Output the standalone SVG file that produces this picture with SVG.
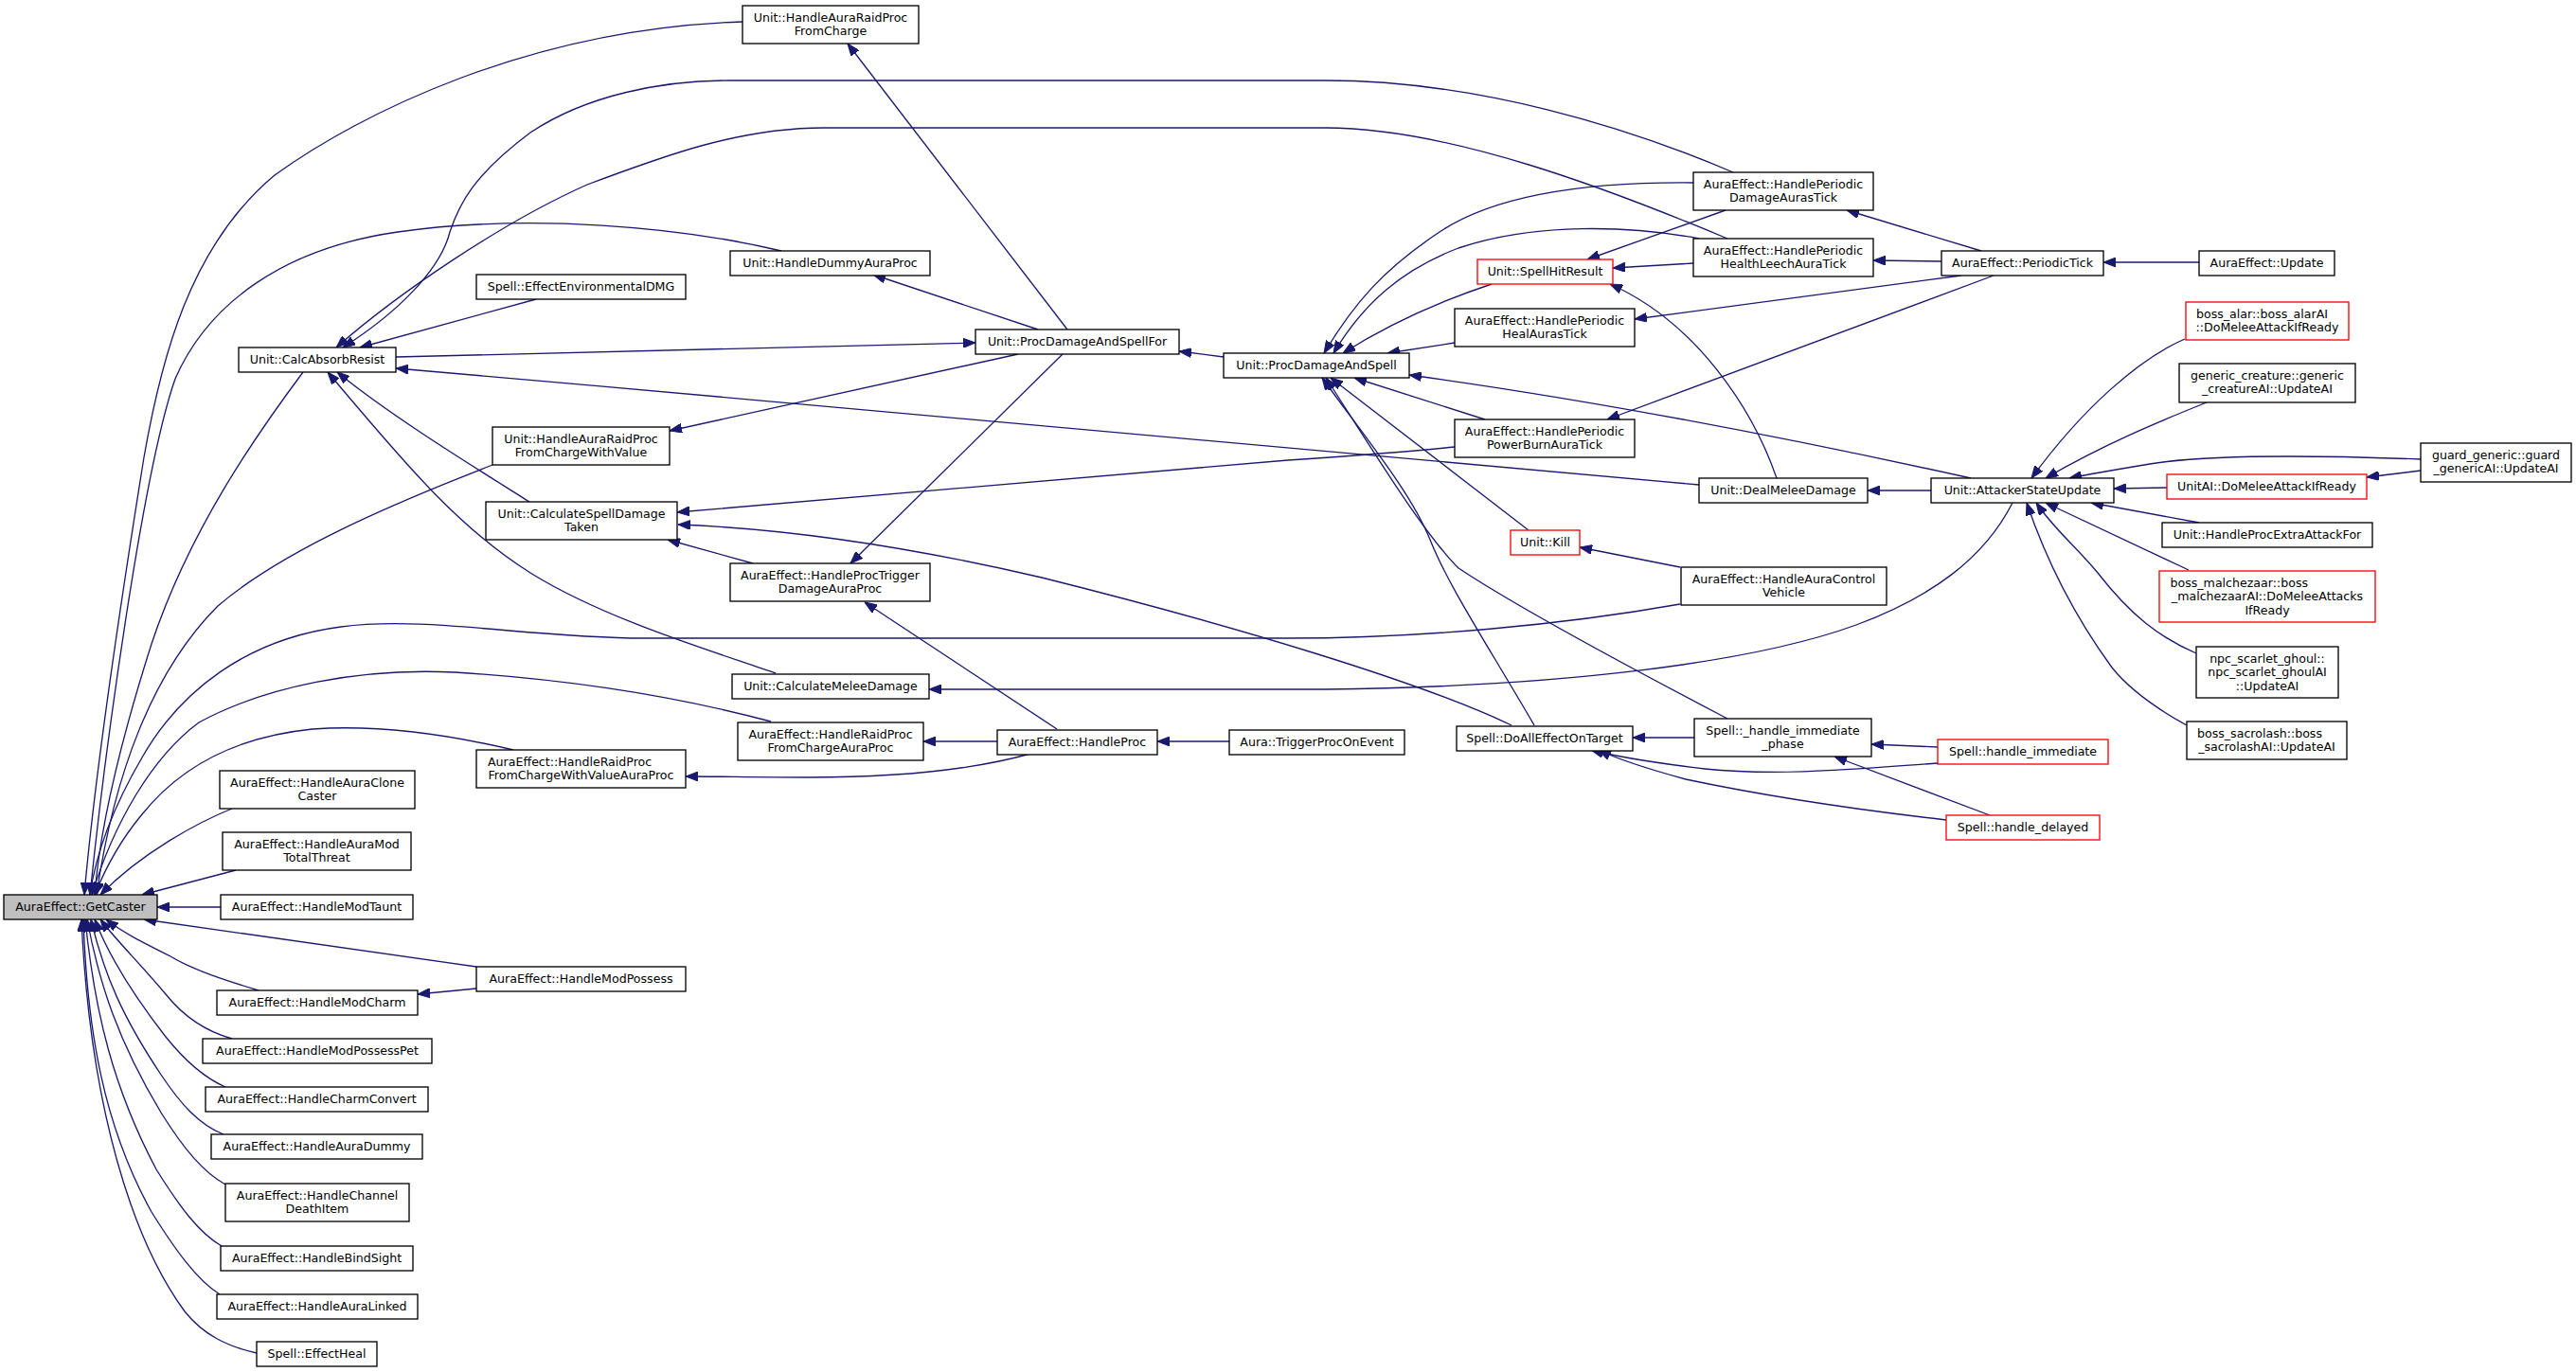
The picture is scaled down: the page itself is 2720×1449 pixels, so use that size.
<svg xmlns="http://www.w3.org/2000/svg" width="2720" height="1449" viewBox="0 0 2720 1449">
<style>
rect{fill:#fff;stroke:#000;stroke-width:1.33}
.r rect{stroke:#ff0000}
.g rect{fill:#bfbfbf}
text{font-family:"DejaVu Sans","Liberation Sans",sans-serif;font-size:12.6px;fill:#000;text-anchor:middle}
text.l{text-anchor:start}
#edges path{fill:none;stroke:#191970;stroke-width:1.33;marker-end:url(#ah)}
</style>
<defs>
<marker id="ah" markerUnits="userSpaceOnUse" viewBox="0 0 13 10" markerWidth="13" markerHeight="10" refX="13" refY="5" orient="auto"><path d="M0,0 L13,5 L0,10 Z" fill="#191970" stroke="#191970" stroke-width="1"/></marker>
</defs>
<rect x="0" y="0" width="2720" height="1449" style="fill:#fff;stroke:none"/>
<g id="edges">
<path d="M784,23 C560,30 380,120 290,185 C200,260 170,380 152,483 C130,620 100,820 89,945"/>
<path d="M1830,182 C1720,135 1560,85 1400,85 L770,85 C700,85 620,100 560,140 C500,185 485,215 475,245 C465,285 420,330 362,367"/>
<path d="M1824,252 C1700,200 1530,135 1400,135 L870,135 C780,135 700,165 620,195 C530,235 420,310 355,367"/>
<path d="M825,265 C720,240 560,225 420,245 C300,262 220,320 185,400 C150,500 110,800 95,945"/>
<path d="M566,316 L380,367"/>
<path d="M418,377 L1030,362"/>
<path d="M1794,512 C1400,480 900,430 418,389"/>
<path d="M320,393 C270,460 200,560 160,680 C125,790 105,880 100,945"/>
<path d="M819,711 C760,690 640,655 560,605 C480,555 420,480 346,393"/>
<path d="M559,530 C520,505 420,445 356,393"/>
<path d="M520,491 C420,530 300,580 230,640 C160,710 120,820 102,945"/>
<path d="M1774,638 C1650,660 1500,674 1360,674 L680,674 C560,674 450,650 360,662 C260,675 190,730 150,800 C115,860 100,910 95,945"/>
<path d="M814,762 C750,745 640,720 480,710 C380,705 280,725 210,763 C160,800 120,870 97,945"/>
<path d="M542,792 C470,775 400,765 330,770 C250,778 190,810 150,860 C125,890 110,920 100,945"/>
<path d="M245,854 C210,868 150,900 106,945"/>
<path d="M249,919 L150,945"/>
<path d="M233,958 L166,958"/>
<path d="M1127,348 L895,46"/>
<path d="M1096,348 L922,290"/>
<path d="M1292,377 L1245,371"/>
<path d="M1075,374 L707,455"/>
<path d="M1122,374 L898,595"/>
<path d="M795,595 L705,570"/>
<path d="M1536,472 C1480,478 1420,482 1360,486 L715,541"/>
<path d="M1596,766 C1500,720 1300,660 1100,610 C950,575 820,558 716,554"/>
<path d="M1116,770 L913,636"/>
<path d="M1053,783 L975,783"/>
<path d="M1088,796 C1020,815 940,821 853,821 C800,821 760,820 724,820"/>
<path d="M1298,783 L1222,783"/>
<path d="M2125,531 C2095,590 2040,630 1960,660 C1850,700 1650,725 1400,728 L981,728"/>
<path d="M1788,193 C1680,192 1580,205 1520,245 C1460,285 1430,320 1398,373"/>
<path d="M1794,252 C1720,238 1620,235 1540,262 C1480,285 1440,320 1408,373"/>
<path d="M1575,300 C1530,315 1470,340 1418,373"/>
<path d="M1536,362 L1465,373"/>
<path d="M2081,505 C1900,465 1700,425 1488,396"/>
<path d="M1568,443 L1430,399"/>
<path d="M1614,560 L1405,399"/>
<path d="M1620,766 C1570,680 1530,620 1510,570 C1490,520 1440,460 1396,399"/>
<path d="M1824,759 C1740,715 1600,640 1540,600 C1500,560 1440,460 1400,399"/>
<path d="M1788,278 L1703,283"/>
<path d="M1822,222 L1676,274"/>
<path d="M1876,505 C1850,430 1790,340 1700,300"/>
<path d="M2071,291 L1726,337"/>
<path d="M2092,265 L1950,222"/>
<path d="M2050,276 L1978,275"/>
<path d="M2105,291 L1697,443"/>
<path d="M2322,277 L2221,277"/>
<path d="M2307,358 C2260,378 2200,430 2145,505"/>
<path d="M2330,425 C2280,445 2220,470 2160,505"/>
<path d="M2556,485 C2450,481 2330,480 2270,490 C2240,495 2210,500 2185,505"/>
<path d="M2556,497 L2499,504"/>
<path d="M2288,515 L2232,516"/>
<path d="M2322,552 L2208,531"/>
<path d="M2311,602 L2160,531"/>
<path d="M2319,690 C2280,673 2250,650 2215,605 C2190,575 2170,560 2150,531"/>
<path d="M2309,766 C2280,750 2250,730 2230,705 C2190,650 2160,590 2140,531"/>
<path d="M2039,518 L1972,518"/>
<path d="M1789,779 L1724,779"/>
<path d="M2046,806 C1960,812 1880,820 1800,812 C1750,806 1710,800 1680,792"/>
<path d="M2055,866 C1960,855 1860,840 1780,823 C1740,812 1710,803 1688,792"/>
<path d="M2046,789 L1976,786"/>
<path d="M2101,861 L1937,799"/>
<path d="M1774,599 L1668,578"/>
<path d="M503,1021 L152,971"/>
<path d="M503,1044 L441,1050"/>
<path d="M273,1046 C240,1036 205,1025 180,1010 C150,995 130,985 112,971"/>
<path d="M245,1097 C220,1090 195,1075 175,1050 C150,1020 120,990 106,971"/>
<path d="M238,1148 C215,1138 195,1120 175,1095 C140,1050 115,1010 100,971"/>
<path d="M236,1198 C210,1188 190,1165 170,1135 C130,1075 110,1030 96,971"/>
<path d="M238,1251 C215,1238 195,1215 170,1175 C125,1100 105,1040 92,971"/>
<path d="M234,1316 C210,1302 190,1275 165,1235 C120,1150 100,1070 90,971"/>
<path d="M232,1367 C208,1352 185,1320 160,1280 C110,1190 92,1090 88,971"/>
<path d="M271,1429 C240,1422 215,1410 195,1385 C140,1310 95,1170 86,971"/>
</g>
<g id="n1" class="g"><rect x="4" y="945" width="162" height="26"/><text x="85" y="961.5">AuraEffect::GetCaster</text></g>
<g id="n2"><rect x="252" y="367" width="166" height="26"/><text x="335" y="383.5">Unit::CalcAbsorbResist</text></g>
<g id="n3"><rect x="503" y="290" width="221" height="26"/><text x="613.5" y="306.5">Spell::EffectEnvironmentalDMG</text></g>
<g id="n4"><rect x="520" y="451" width="187" height="40"/><text x="613.5" y="467.5">Unit::HandleAuraRaidProc</text><text x="613.5" y="482">FromChargeWithValue</text></g>
<g id="n5"><rect x="784" y="6" width="186" height="40"/><text x="877" y="22.5">Unit::HandleAuraRaidProc</text><text x="877" y="37">FromCharge</text></g>
<g id="n6"><rect x="771" y="265" width="211" height="26"/><text x="876.5" y="281.5">Unit::HandleDummyAuraProc</text></g>
<g id="n7"><rect x="1030" y="348" width="215" height="26"/><text x="1137.5" y="364.5">Unit::ProcDamageAndSpellFor</text></g>
<g id="n8"><rect x="1292" y="373" width="196" height="26"/><text x="1390" y="389.5">Unit::ProcDamageAndSpell</text></g>
<g id="n9"><rect x="1788" y="182" width="190" height="40"/><text x="1883" y="198.5">AuraEffect::HandlePeriodic</text><text x="1883" y="213">DamageAurasTick</text></g>
<g id="n10"><rect x="1788" y="252" width="190" height="40"/><text x="1883" y="268.5">AuraEffect::HandlePeriodic</text><text x="1883" y="283">HealthLeechAuraTick</text></g>
<g id="n11" class="r"><rect x="1560" y="274" width="143" height="26"/><text x="1631.5" y="290.5">Unit::SpellHitResult</text></g>
<g id="n12"><rect x="1536" y="326" width="190" height="40"/><text x="1631" y="342.5">AuraEffect::HandlePeriodic</text><text x="1631" y="357">HealAurasTick</text></g>
<g id="n13"><rect x="1536" y="443" width="190" height="40"/><text x="1631" y="459.5">AuraEffect::HandlePeriodic</text><text x="1631" y="474">PowerBurnAuraTick</text></g>
<g id="n14"><rect x="2050" y="265" width="171" height="26"/><text x="2135.5" y="281.5">AuraEffect::PeriodicTick</text></g>
<g id="n15"><rect x="2322" y="265" width="143" height="26"/><text x="2393.5" y="281.5">AuraEffect::Update</text></g>
<g id="n16" class="r"><rect x="2308" y="319" width="172" height="40"/><text class="l" x="2319" y="335.5">boss_alar::boss_alarAI</text><text x="2394" y="350">::DoMeleeAttackIfReady</text></g>
<g id="n17"><rect x="2301" y="384" width="186" height="41"/><text x="2394" y="400.5">generic_creature::generic</text><text x="2394" y="415">_creatureAI::UpdateAI</text></g>
<g id="n18"><rect x="2556" y="468" width="159" height="41"/><text x="2635.5" y="484.5">guard_generic::guard</text><text x="2635.5" y="499">_genericAI::UpdateAI</text></g>
<g id="n19"><rect x="513" y="530" width="202" height="40"/><text x="614" y="546.5">Unit::CalculateSpellDamage</text><text x="614" y="561">Taken</text></g>
<g id="n20"><rect x="771" y="595" width="211" height="40"/><text x="876.5" y="611.5">AuraEffect::HandleProcTrigger</text><text x="876.5" y="626">DamageAuraProc</text></g>
<g id="n21"><rect x="773" y="712" width="208" height="26"/><text x="877" y="728.5">Unit::CalculateMeleeDamage</text></g>
<g id="n22"><rect x="779" y="763" width="196" height="40"/><text x="877" y="779.5">AuraEffect::HandleRaidProc</text><text x="877" y="794">FromChargeAuraProc</text></g>
<g id="n23"><rect x="1053" y="771" width="169" height="26"/><text x="1137.5" y="787.5">AuraEffect::HandleProc</text></g>
<g id="n24"><rect x="1298" y="771" width="185" height="26"/><text x="1390.5" y="787.5">Aura::TriggerProcOnEvent</text></g>
<g id="n25"><rect x="503" y="792" width="221" height="40"/><text class="l" x="515" y="808.5">AuraEffect::HandleRaidProc</text><text x="613.5" y="823">FromChargeWithValueAuraProc</text></g>
<g id="n26"><rect x="232" y="814" width="206" height="40"/><text x="335" y="830.5">AuraEffect::HandleAuraClone</text><text x="335" y="845">Caster</text></g>
<g id="n27"><rect x="235" y="879" width="199" height="40"/><text x="334.5" y="895.5">AuraEffect::HandleAuraMod</text><text x="334.5" y="910">TotalThreat</text></g>
<g id="n28"><rect x="233" y="945" width="203" height="26"/><text x="334.5" y="961.5">AuraEffect::HandleModTaunt</text></g>
<g id="n29"><rect x="1794" y="505" width="178" height="26"/><text x="1883" y="521.5">Unit::DealMeleeDamage</text></g>
<g id="n30" class="r"><rect x="1595" y="560" width="73" height="26"/><text x="1631.5" y="576.5">Unit::Kill</text></g>
<g id="n31"><rect x="1775" y="599" width="217" height="40"/><text x="1883.5" y="615.5">AuraEffect::HandleAuraControl</text><text x="1883.5" y="630">Vehicle</text></g>
<g id="n32"><rect x="1538" y="767" width="186" height="26"/><text x="1631" y="783.5">Spell::DoAllEffectOnTarget</text></g>
<g id="n33"><rect x="1789" y="759" width="187" height="40"/><text x="1882.5" y="775.5">Spell::_handle_immediate</text><text x="1882.5" y="790">_phase</text></g>
<g id="n34"><rect x="2039" y="505" width="193" height="26"/><text x="2135.5" y="521.5">Unit::AttackerStateUpdate</text></g>
<g id="n35" class="r"><rect x="2288" y="501" width="211" height="26"/><text x="2393.5" y="517.5">UnitAI::DoMeleeAttackIfReady</text></g>
<g id="n36"><rect x="2283" y="552" width="222" height="26"/><text x="2394" y="568.5">Unit::HandleProcExtraAttackFor</text></g>
<g id="n37" class="r"><rect x="2280" y="603" width="228" height="54"/><text class="l" x="2291.5" y="619.5">boss_malchezaar::boss</text><text x="2394" y="634">_malchezaarAI::DoMeleeAttacks</text><text x="2394" y="648.5">IfReady</text></g>
<g id="n38"><rect x="2319" y="683" width="150" height="54"/><text x="2394" y="699.5">npc_scarlet_ghoul::</text><text x="2394" y="714">npc_scarlet_ghoulAI</text><text x="2394" y="728.5">::UpdateAI</text></g>
<g id="n39"><rect x="2309" y="762" width="169" height="40"/><text class="l" x="2320" y="778.5">boss_sacrolash::boss</text><text x="2393.5" y="793">_sacrolashAI::UpdateAI</text></g>
<g id="n40" class="r"><rect x="2046" y="781" width="180" height="26"/><text x="2136" y="797.5">Spell::handle_immediate</text></g>
<g id="n41" class="r"><rect x="2055" y="861" width="162" height="26"/><text x="2136" y="877.5">Spell::handle_delayed</text></g>
<g id="n42"><rect x="503" y="1021" width="221" height="26"/><text x="613.5" y="1037.5">AuraEffect::HandleModPossess</text></g>
<g id="n43"><rect x="229" y="1046" width="212" height="26"/><text x="335" y="1062.5">AuraEffect::HandleModCharm</text></g>
<g id="n44"><rect x="214" y="1097" width="242" height="26"/><text x="335" y="1113.5">AuraEffect::HandleModPossessPet</text></g>
<g id="n45"><rect x="217" y="1148" width="235" height="26"/><text x="334.5" y="1164.5">AuraEffect::HandleCharmConvert</text></g>
<g id="n46"><rect x="223" y="1198" width="223" height="26"/><text x="334.5" y="1214.5">AuraEffect::HandleAuraDummy</text></g>
<g id="n47"><rect x="238" y="1250" width="194" height="40"/><text x="335" y="1266.5">AuraEffect::HandleChannel</text><text x="335" y="1281">DeathItem</text></g>
<g id="n48"><rect x="233" y="1316" width="203" height="26"/><text x="334.5" y="1332.5">AuraEffect::HandleBindSight</text></g>
<g id="n49"><rect x="229" y="1367" width="212" height="26"/><text x="335" y="1383.5">AuraEffect::HandleAuraLinked</text></g>
<g id="n50"><rect x="271" y="1417" width="127" height="26"/><text x="334.5" y="1433.5">Spell::EffectHeal</text></g>
</svg>
